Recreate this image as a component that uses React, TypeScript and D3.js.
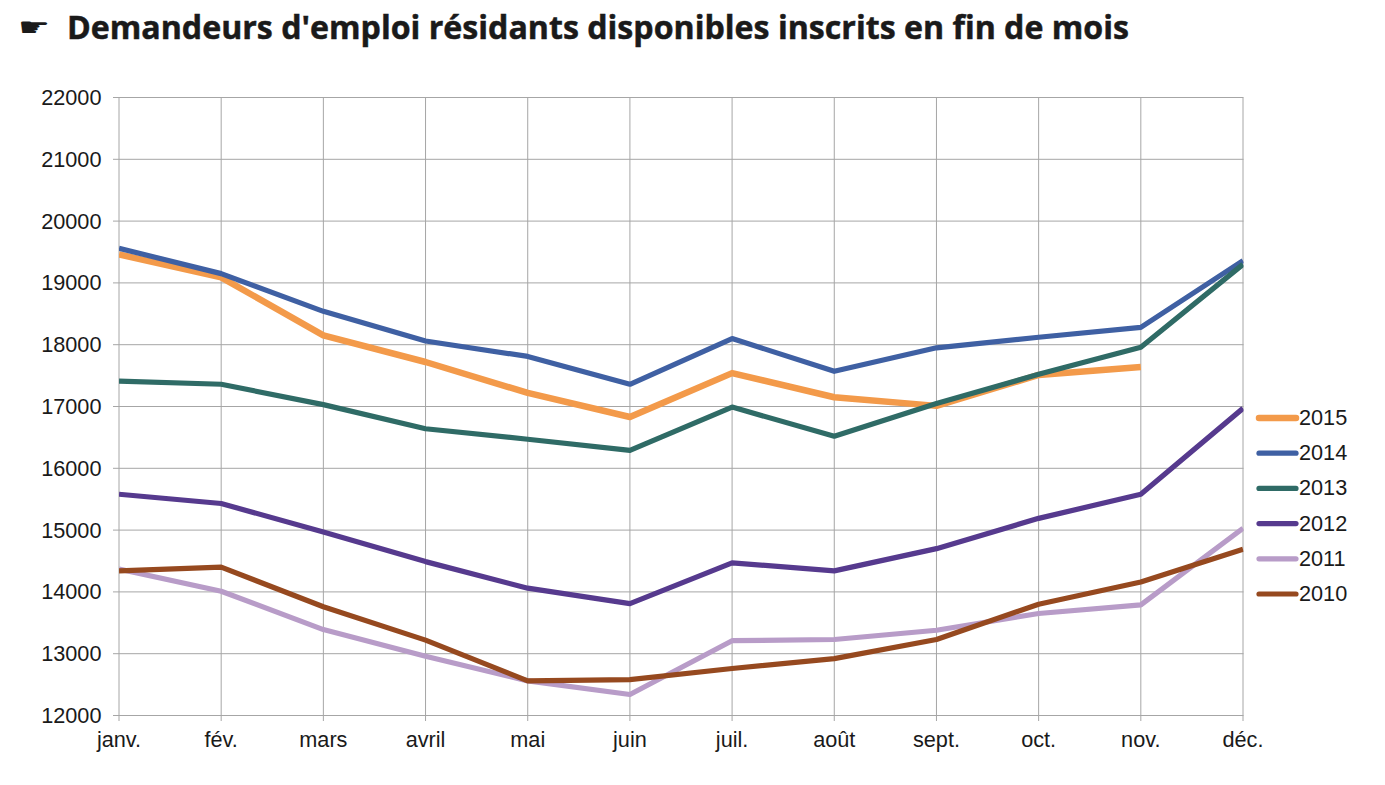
import React from "react";
import * as d3 from "d3";

const months = ["janv.", "fév.", "mars", "avril", "mai", "juin", "juil.", "août", "sept.", "oct.", "nov.", "déc."];
const yTicks = [12000, 13000, 14000, 15000, 16000, 17000, 18000, 19000, 20000, 21000, 22000];
const titleText = "Demandeurs d'emploi résidants disponibles inscrits en fin de mois";

const s2015 = [19460, 19090, 18150, 17720, 17220, 16830, 17540, 17150, 17010, 17510, 17640];
const s2014 = [19560, 19150, 18540, 18060, 17810, 17360, 18100, 17570, 17950, 18120, 18280, 19360];
const s2013 = [17410, 17360, 17030, 16640, 16470, 16290, 16990, 16520, 17050, 17520, 17960, 19300];
const s2012 = [15580, 15430, 14970, 14490, 14060, 13810, 14470, 14340, 14700, 15190, 15580, 16970];
const s2011 = [14370, 14010, 13390, 12960, 12560, 12340, 13210, 13230, 13380, 13650, 13790, 15030];
const s2010 = [14340, 14400, 13760, 13220, 12560, 12580, 12760, 12920, 13230, 13800, 14160, 14690];

const seriesNames = ["2015", "2014", "2013", "2012", "2011", "2010"];
const seriesValues = [s2015, s2014, s2013, s2012, s2011, s2010];
const seriesColors = ["#f39a4a", "#3f60a3", "#2f6b66", "#563a8e", "#b89cc8", "#96491f"];
const seriesWidths = [6.5, 5.2, 5.2, 5.2, 5.2, 5.2];

const x = d3.scalePoint<string>().domain(months).range([119, 1243]);
const y = d3.scaleLinear().domain([12000, 22000]).range([715.5, 97.5]);
const legendY = d3.scalePoint<string>().domain(seriesNames).range([418, 594]);
const grid = "#a6a6a6";
const sans = "'Liberation Sans', Arial, sans-serif";

export default function App() {
  const line = d3
    .line<number>()
    .x((_, i) => x(months[i]) as number)
    .y((v) => y(v));
  return (
    <svg width={1385} height={785} style={{ position: "absolute", left: 0, top: 0, background: "#fff" }}>
      <defs>
        <clipPath id="plot">
          <rect x={119} y={90} width={1124.5} height={640} />
        </clipPath>
      </defs>
      <text transform="translate(18,36) scale(1.12,0.8)" fontFamily="'DejaVu Sans'" fontSize={32} fill="#1a1a1a">☛</text>
      <text x={67} y={38.5} fontFamily="'Open Sans', 'Noto Sans', sans-serif" fontWeight={700} fontSize={33}
        textLength={1062} lengthAdjust="spacingAndGlyphs" fill="#1a1a1a" stroke="#1a1a1a" strokeWidth={0.5}>{titleText}</text>

      {yTicks.map((t) => (
        <g key={t}>
          <line x1={113} x2={1243.5} y1={y(t)} y2={y(t)} stroke={grid} strokeWidth={1} />
          <text x={101.5} y={y(t) + 7.5} textAnchor="end" fontFamily={sans} fontSize={21.7} fill="#1a1a1a">{t}</text>
        </g>
      ))}
      {months.map((m) => (
        <g key={m}>
          <line x1={x(m)} x2={x(m)} y1={97.5} y2={721} stroke={grid} strokeWidth={1} />
          <text x={x(m)} y={747} textAnchor="middle" fontFamily={sans} fontSize={21.7} fill="#1a1a1a">{m}</text>
        </g>
      ))}

      <g clipPath="url(#plot)">
        {seriesValues.map((vals, i) => (
          <path key={seriesNames[i]} d={line(vals) as string} fill="none" stroke={seriesColors[i]}
            strokeWidth={seriesWidths[i]} strokeLinejoin="round" />
        ))}
      </g>

      {seriesNames.map((n, i) => (
        <g key={n}>
          <line x1={1259} x2={1296} y1={legendY(n)} y2={legendY(n)} stroke={seriesColors[i]}
            strokeWidth={seriesWidths[i]} strokeLinecap="round" />
          <text x={1299} y={(legendY(n) as number) + 7} fontFamily={sans} fontSize={21.7} fill="#1a1a1a">{n}</text>
        </g>
      ))}
    </svg>
  );
}
